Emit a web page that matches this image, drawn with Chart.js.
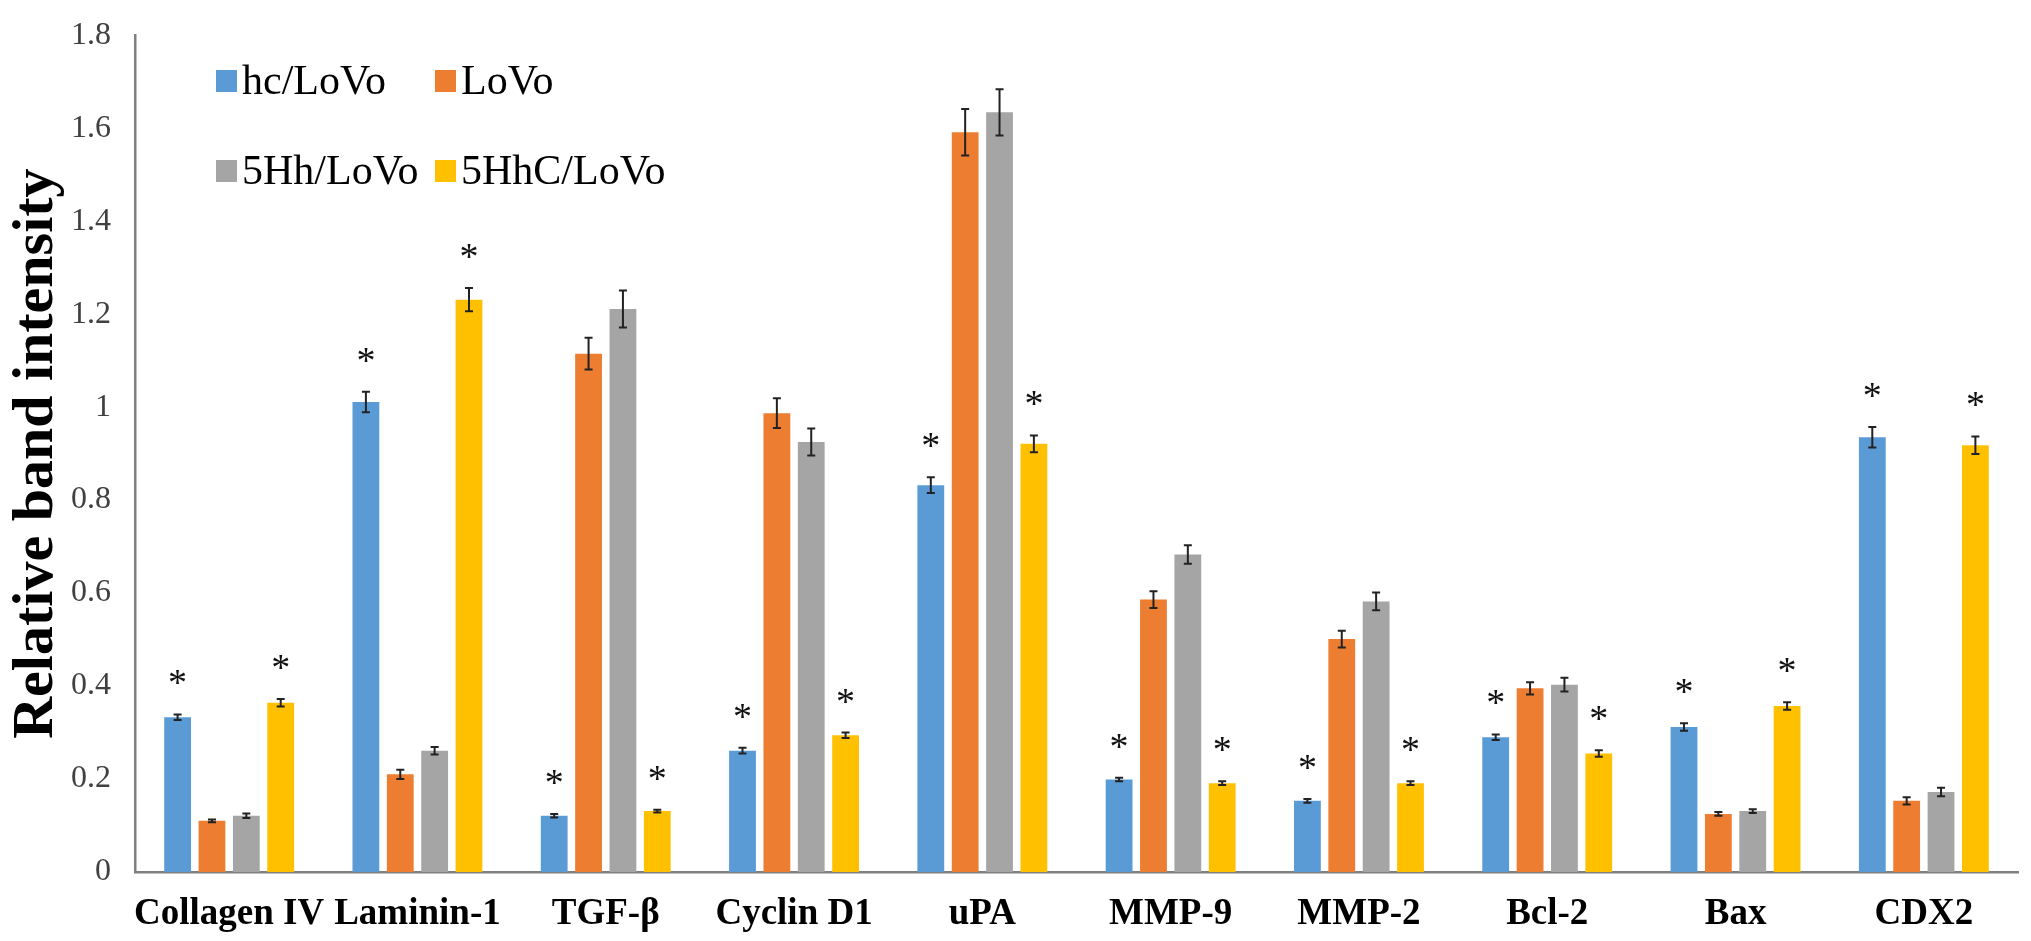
<!DOCTYPE html>
<html lang="en">
<head>
  <meta charset="UTF-8" />
  <title>Relative band intensity</title>
  <script src="https://cdn.jsdelivr.net/npm/chart.js"></script>
  <style>
    body {
      margin: 0;
      background: #fff;
      overflow: hidden;
    }
    #wrap {
      width: 2031px;
      height: 941px;
    }
  </style>
</head>
<body>

<div id="wrap">
  <canvas id="bandChart" width="2031" height="941"></canvas>
</div>

<script>
const categories = ['Collagen IV', 'Laminin-1', 'TGF-β', 'Cyclin D1', 'uPA', 'MMP-9', 'MMP-2', 'Bcl-2', 'Bax', 'CDX2'];
const seriesNames = ['hc/LoVo', 'LoVo', '5Hh/LoVo', '5HhC/LoVo'];

const hcLoVo   = [0.333, 1.011, 0.121, 0.261, 0.832, 0.199, 0.153, 0.290, 0.312, 0.935];
const loVo     = [0.110, 0.210, 1.115, 0.987, 1.591, 0.586, 0.501, 0.395, 0.125, 0.153];
const hhLoVo   = [0.121, 0.261, 1.211, 0.925, 1.634, 0.683, 0.582, 0.403, 0.131, 0.172];
const hhcLoVo  = [0.364, 1.231, 0.131, 0.294, 0.921, 0.191, 0.191, 0.255, 0.357, 0.918];

// error bar half-heights
const hcErr  = [0.006, 0.022, 0.004, 0.006, 0.017, 0.004, 0.004, 0.006, 0.008, 0.022];
const loErr  = [0.003, 0.010, 0.034, 0.032, 0.050, 0.018, 0.018, 0.013, 0.004, 0.008];
const hhErr  = [0.005, 0.008, 0.040, 0.029, 0.050, 0.020, 0.019, 0.015, 0.004, 0.009];
const hhcErr = [0.008, 0.025, 0.003, 0.006, 0.018, 0.004, 0.004, 0.007, 0.008, 0.019];

// significance marks (*)
const hcStar  = [1, 1, 1, 1, 1, 1, 1, 1, 1, 1];
const hhcStar = [1, 1, 1, 1, 1, 1, 1, 1, 1, 1];

const yTickLabels = ['0', '0.2', '0.4', '0.6', '0.8', '1', '1.2', '1.4', '1.6', '1.8'];

const colors = ['#5B9BD5', '#ED7D31', '#A5A5A5', '#FFC000'];
const serif = '"Liberation Serif", "Times New Roman", serif';

const errorBars = {
  id: 'errorBars',
  afterDatasetsDraw(chart) {
    const ctx = chart.ctx;
    const y = chart.scales.y;
    ctx.save();
    chart.data.datasets.forEach((ds, i) => {
      const meta = chart.getDatasetMeta(i);
      meta.data.forEach((bar, j) => {
        const v = ds.data[j];
        const e = ds.errors[j];
        const top = y.getPixelForValue(v + e);
        const bot = y.getPixelForValue(v - e);
        ctx.strokeStyle = '#222';
        ctx.lineWidth = 2;
        ctx.beginPath();
        ctx.moveTo(bar.x, top);
        ctx.lineTo(bar.x, bot);
        ctx.moveTo(bar.x - 4, top);
        ctx.lineTo(bar.x + 4, top);
        ctx.moveTo(bar.x - 4, bot);
        ctx.lineTo(bar.x + 4, bot);
        ctx.stroke();
        if (ds.stars && ds.stars[j]) {
          ctx.fillStyle = '#111';
          ctx.font = '38px ' + serif;
          ctx.textAlign = 'center';
          ctx.textBaseline = 'alphabetic';
          ctx.fillText('*', bar.x, top - 38 + 19);
        }
      });
    });
    ctx.restore();
  }
};

const boxLegend = {
  id: 'boxLegend',
  afterDraw(chart) {
    const ctx = chart.ctx;
    const spots = [[216, 81], [435, 81], [216, 171], [435, 171]];
    ctx.save();
    ctx.font = '42px ' + serif;
    ctx.textBaseline = 'middle';
    ctx.textAlign = 'left';
    chart.data.datasets.forEach((ds, i) => {
      const [x, yy] = spots[i];
      ctx.fillStyle = ds.backgroundColor;
      ctx.fillRect(x, yy - 11, 21, 22);
      ctx.fillStyle = '#000';
      ctx.fillText(ds.label, x + 26, yy + 2);
    });
    ctx.restore();
  }
};

const ctx = document.getElementById('bandChart').getContext('2d');
new Chart(ctx, {
  type: 'bar',
  data: {
    labels: categories,
    datasets: [
      { label: seriesNames[0], data: hcLoVo,  errors: hcErr,  stars: hcStar,  backgroundColor: colors[0] },
      { label: seriesNames[1], data: loVo,    errors: loErr,  backgroundColor: colors[1] },
      { label: seriesNames[2], data: hhLoVo,  errors: hhErr,  backgroundColor: colors[2] },
      { label: seriesNames[3], data: hhcLoVo, errors: hhcErr, stars: hhcStar, backgroundColor: colors[3] }
    ]
  },
  options: {
    responsive: false,
    animation: false,
    devicePixelRatio: 1,
    categoryPercentage: 0.73,
    barPercentage: 0.78,
    layout: { padding: { top: 23, right: 13, bottom: 0, left: 0 } },
    plugins: {
      legend: { display: false },
      tooltip: { enabled: false }
    },
    scales: {
      x: {
        grid: { display: false },
        border: { display: true, color: '#7f7f7f', width: 2.5 },
        ticks: {
          autoSkip: false,
          maxRotation: 0,
          padding: 12,
          color: '#000',
          font: { family: serif, size: 37, weight: 'bold' }
        },
        afterFit(scale) { scale.height = 69; }
      },
      y: {
        min: 0,
        max: 1.8,
        grid: { display: false },
        border: { display: true, color: '#7f7f7f', width: 2.5 },
        ticks: {
          stepSize: 0.2,
          padding: 16,
          color: '#404040',
          font: { family: serif, size: 32 },
          callback: (v, i) => yTickLabels[i]
        },
        title: {
          display: true,
          text: 'Relative band intensity',
          color: '#000',
          padding: { top: 2, bottom: 0 },
          font: { family: serif, size: 58, weight: 'bold' }
        },
        afterFit(scale) { scale.width = 135; }
      }
    }
  },
  plugins: [errorBars, boxLegend]
});
</script>

</body>
</html>
